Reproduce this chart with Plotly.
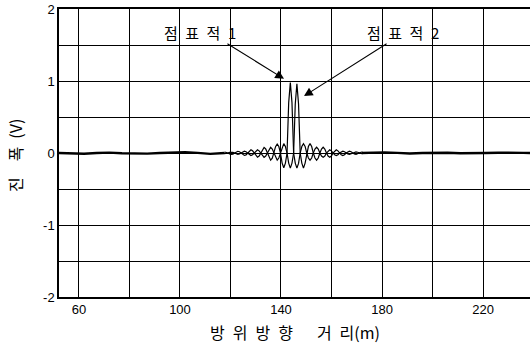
import numpy as np
import plotly.graph_objects as go

# ---- data ----
# sampling grid of the oscillating region (azimuth distance, m)
osc_start = 117.7
osc_step = 0.65
# target 1 response (V)
target1 = [0.014, 0.01, 0.0, -0.012, -0.02, -0.015, 0.0, 0.017, 0.024, 0.018, 0.0, -0.024,
           -0.034, -0.026, 0.0, 0.03, 0.044, 0.031, 0.0, -0.04, -0.058, -0.043, 0.0, 0.053,
           0.078, 0.056, 0.0, -0.068, -0.10, -0.072, 0.0, 0.088, 0.125, 0.09, 0.0, -0.14,
           -0.205, -0.14, 0.0, 0.70, 0.98, 0.70, 0.0, -0.14, -0.21, -0.145, 0.0, 0.09,
           0.13, 0.092, 0.0, -0.07, -0.10, -0.07, 0.0, 0.056, 0.08, 0.055, 0.0, -0.043,
           -0.06, -0.042, 0.0, 0.031, 0.045, 0.03, 0.0, -0.025, -0.035, -0.024, 0.0, 0.018,
           0.025, 0.017, 0.0, -0.014, -0.02, -0.013, 0.0, 0.01, 0.014, 0.01, 0.0, -0.006, -0.008]
# target 2 response (V)
target2 = [-0.008, -0.006, 0.0, 0.01, 0.014, 0.01, 0.0, -0.014, -0.02, -0.014, 0.0, 0.018,
           0.025, 0.018, 0.0, -0.025, -0.035, -0.025, 0.0, 0.03, 0.045, 0.03, 0.0, -0.042,
           -0.06, -0.042, 0.0, 0.055, 0.08, 0.055, 0.0, -0.07, -0.10, -0.07, 0.0, 0.09,
           0.13, 0.09, 0.0, -0.14, -0.21, -0.14, 0.0, 0.68, 0.96, 0.68, 0.0, -0.14,
           -0.21, -0.14, 0.0, 0.09, 0.13, 0.09, 0.0, -0.07, -0.10, -0.07, 0.0, 0.055,
           0.08, 0.055, 0.0, -0.042, -0.06, -0.042, 0.0, 0.03, 0.045, 0.03, 0.0, -0.025,
           -0.035, -0.025, 0.0, 0.018, 0.025, 0.018, 0.0, -0.014, -0.02, -0.014, 0.0, 0.01, 0.014]
# flat clutter level outside the targets
base_left_x = [52, 57, 62, 67, 72, 77, 82, 87, 92, 97, 102, 107, 112, 117.7]
base_left_y = [0.0, -0.006, -0.01, 0.0, 0.005, -0.004, -0.01, -0.008, 0.0, 0.006, 0.01, 0.002, -0.012, 0.0]
base_right_x = [171.95, 176, 181, 186, 191, 196, 201, 206, 211, 216, 221, 226, 231, 236, 239]
base_right_y = [0.0, 0.004, 0.008, 0.002, -0.006, 0.0, 0.006, 0.004, -0.004, -0.006, 0.0, 0.004, -0.002, 0.002, 0.0]

x_ticks = [60, 80, 100, 120, 140, 160, 180, 200, 220]
x_ticklabels = ["60", "", "100", "", "140", "", "180", "", "220"]
y_ticks = [-2, -1.5, -1, -0.5, 0, 0.5, 1, 1.5, 2]
y_ticklabels = ["-2", "", "-1", "", "0", "", "1", "", "2"]

osc_x = np.round(osc_start + osc_step * np.arange(len(target1)), 3)

fig = go.Figure()
fig.add_trace(go.Scatter(x=base_left_x, y=base_left_y, mode="lines",
                         line=dict(color="black", width=2.4), showlegend=False))
fig.add_trace(go.Scatter(x=base_right_x, y=base_right_y, mode="lines",
                         line=dict(color="black", width=2.4), showlegend=False))
fig.add_trace(go.Scatter(x=osc_x, y=target1, mode="lines",
                         line=dict(color="black", width=1.2), showlegend=False))
fig.add_trace(go.Scatter(x=osc_x, y=target2, mode="lines",
                         line=dict(color="black", width=1.2), showlegend=False))

tick_font = dict(family="Liberation Sans, Arial, sans-serif", size=13, color="black")
kfont = dict(family="Noto Sans CJK KR, sans-serif", size=15, color="black")
tfont = dict(family="Noto Sans CJK KR, sans-serif", size=16, color="black")

fig.update_layout(
    width=530, height=346,
    margin=dict(l=59, r=0, t=9, b=49, autoexpand=False),
    paper_bgcolor="white", plot_bgcolor="white",
    xaxis=dict(range=[52.1, 238.6], tickvals=x_ticks, ticktext=x_ticklabels,
               showgrid=True, gridcolor="black", gridwidth=1.3, zeroline=False,
               showline=True, linecolor="black", linewidth=1.5, mirror=True,
               ticks="", tickfont=tick_font, ticklabeloverflow="allow", automargin=False),
    yaxis=dict(range=[-2, 2], tickvals=y_ticks, ticktext=y_ticklabels,
               showgrid=True, gridcolor="black", gridwidth=1.3, zeroline=False,
               showline=True, linecolor="black", linewidth=1.5, mirror=True,
               ticks="", tickfont=tick_font, ticklabeloverflow="allow", automargin=False),
)

annotations = [
    dict(x=141.2, y=1.03, ax=118.2, ay=1.53, xref="x", yref="y", axref="x", ayref="y",
         showarrow=True, arrowhead=2, arrowsize=1.6, arrowwidth=1.1, arrowcolor="black", text=""),
    dict(x=149.1, y=0.79, ax=182.4, ay=1.53, xref="x", yref="y", axref="x", ayref="y",
         showarrow=True, arrowhead=2, arrowsize=1.6, arrowwidth=1.1, arrowcolor="black", text=""),
    dict(x=107.9, y=1.68, xref="x", yref="y", text="점\u2002표\u2002적\u20021",
         showarrow=False, font=kfont, xanchor="center", yanchor="middle"),
    dict(x=188.3, y=1.68, xref="x", yref="y", text="점\u2002표\u2002적\u20022",
         showarrow=False, font=kfont, xanchor="center", yanchor="middle"),
    dict(x=0.50, y=-0.122, xref="paper", yref="paper",
         text="방\u2002위\u2002방\u2002향\u2003\u2002거\u2002리(m)",
         showarrow=False, font=tfont, xanchor="center", yanchor="middle"),
    dict(x=-0.093, y=0.49, xref="paper", yref="paper", text="진\u2003폭\u2002(V)", textangle=-90,
         showarrow=False, font=tfont, xanchor="center", yanchor="middle"),
]
fig.update_layout(annotations=annotations)

# remove the page's default body margin so the figure fills the window exactly
fig.write_html("out.html", config={"displayModeBar": False},
               post_script="document.body.style.margin='0';")
